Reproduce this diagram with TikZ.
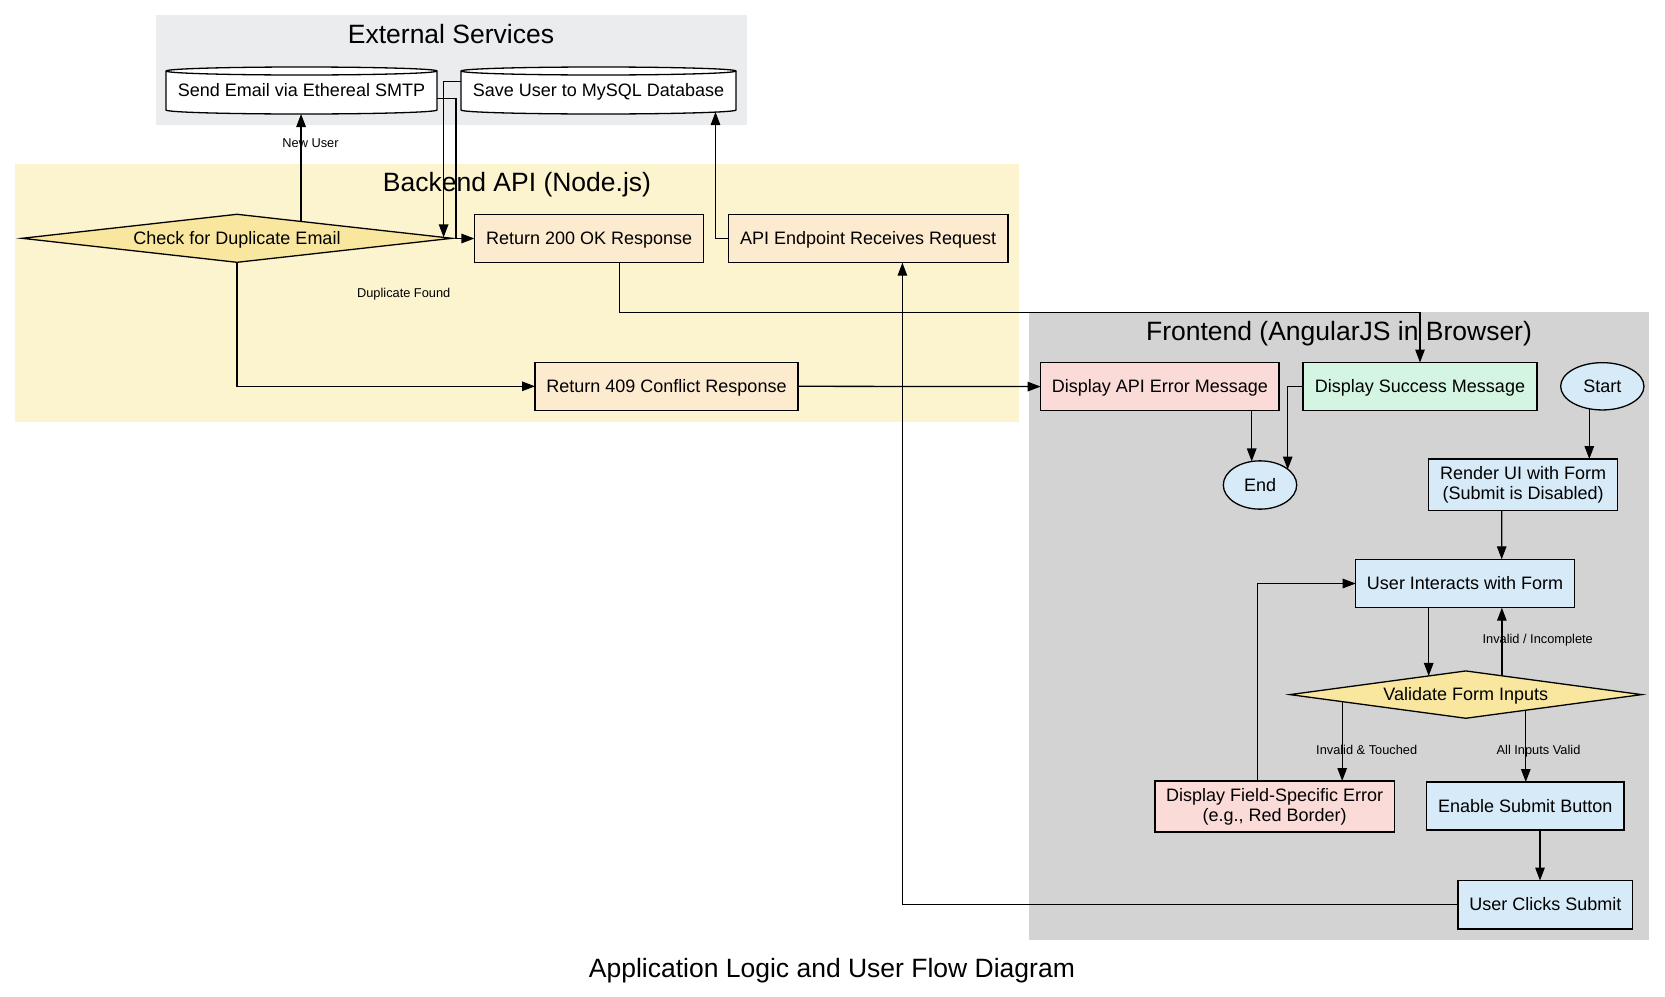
\documentclass[tikz,border=0pt]{standalone}
\usepackage{fontspec}
\setmainfont{Liberation Sans}
\usetikzlibrary{arrows.meta,shapes.geometric,calc}
\pgfdeclarelayer{bg}
\pgfsetlayers{bg,main}
\definecolor{extfill}{HTML}{EAECEE}
\definecolor{backfill}{HTML}{FCF3CF}
\definecolor{frontfill}{HTML}{D3D3D3}
\definecolor{decfill}{HTML}{F9E79F}
\definecolor{bkbox}{HTML}{FDEBD0}
\definecolor{errbox}{HTML}{FADBD8}
\definecolor{okbox}{HTML}{D5F5E3}
\definecolor{uibox}{HTML}{D6EAF8}
\newcommand\dgnodefont{\fontsize{18}{20}\selectfont}
\newcommand\dglabfont{\fontsize{12.8}{14}\selectfont}
\newcommand\dgclusfont{\fontsize{26.5}{30}\selectfont}
\newcommand\dgcyl[2]{%
  \begin{pgfonlayer}{bg}
  \filldraw[dgline, fill=white] ($(#1.north west)+(0,4)$) -- ($(#1.south west)+(0,-4)$)
     arc[start angle=180,end angle=0,x radius=#2,y radius=4]
     -- ($(#1.north east)+(0,4)$)
     arc[start angle=0,end angle=-180,x radius=#2,y radius=4] -- cycle;
  \draw[dgline] ($(#1.north west)+(0,4)$) arc[start angle=180,end angle=0,x radius=#2,y radius=4];
  \end{pgfonlayer}}
\tikzset{
  dgline/.style={line width=1.3pt, draw=black},
  dgbox/.style={rectangle, dgline, inner sep=0pt, outer sep=0pt, align=center, font=\dgnodefont},
  onel/.style={text height=15pt, text depth=3pt},
  bkstyle/.style={dgbox, fill=bkbox},
  errstyle/.style={dgbox, fill=errbox},
  okstyle/.style={dgbox, fill=okbox},
  uistyle/.style={dgbox, fill=uibox},
  decstyle/.style={diamond, dgline, fill=decfill, inner sep=0pt, outer sep=0pt, font=\dgnodefont, text height=15pt, text depth=3pt},
  termstyle/.style={ellipse, dgline, fill=uibox, inner sep=0pt, outer sep=0pt, font=\dgnodefont, text height=15pt, text depth=3pt},
  cylstyle/.style={rectangle, inner sep=0pt, outer sep=0pt, font=\dgnodefont, text height=15pt, text depth=3pt},
  conn/.style={line width=1.3pt, -{Triangle[length=13pt,width=9.5pt]}},
  elab/.style={font=\dglabfont, inner sep=0pt, text height=9pt, text depth=0pt},
  ctitle/.style={font=\dgclusfont, inner sep=0pt, anchor=base},
}
\begin{document}
\begin{tikzpicture}[x=1pt,y=-1pt]
\useasboundingbox (0,0) rectangle (1665,996);
\begin{pgfonlayer}{bg}
\fill[white] (0,0) rectangle (1665,996);
\fill[extfill] (155.8,15) rectangle (747,125);
\fill[backfill] (15,163.5) rectangle (1019,421.7);
\fill[frontfill] (1029,311.7) rectangle (1649,940);
\end{pgfonlayer}

\node[ctitle] (extTitle) at (451,43.3) {External Services};
\node[ctitle] (backTitle) at (517,191.7) {Backend API (Node.js)};
\node[ctitle] (frontTitle) at (1339,340) {Frontend (AngularJS in Browser)};
\node[ctitle] (mainTitle) at (831.9,977) {Application Logic and User Flow Diagram};

% nodes
\node[cylstyle, minimum width=271pt, minimum height=47pt] (sendEmail) at (301.5,90.5) {Send Email via Ethereal SMTP};
\node[cylstyle, minimum width=275pt, minimum height=47pt] (saveUser) at (598.5,90.5) {Save User to MySQL Database};
\dgcyl{sendEmail}{135.5}
\dgcyl{saveUser}{137.5}
\node[decstyle, shape aspect=9, minimum width=430pt, minimum height=48pt] (check) at (237,238.3) {Check for Duplicate Email};
\node[bkstyle, onel, minimum width=229.4pt, minimum height=48.4pt] (ret200) at (589.1,238.5) {Return 200 OK Response};
\node[bkstyle, onel, minimum width=279.3pt, minimum height=48.4pt] (apiEnd) at (868.2,238.5) {API Endpoint Receives Request};
\node[bkstyle, onel, minimum width=263pt, minimum height=48pt] (ret409) at (666.5,386.3) {Return 409 Conflict Response};
\node[errstyle, onel, minimum width=238.3pt, minimum height=48.2pt] (apiErr) at (1159.8,386.6) {Display API Error Message};
\node[okstyle, onel, minimum width=234pt, minimum height=48.2pt] (success) at (1420,386.6) {Display Success Message};
\node[termstyle, minimum width=83.3pt, minimum height=47.3pt] (start) at (1602.3,386.3) {Start};
\node[termstyle, minimum width=73.4pt, minimum height=48.3pt] (end) at (1260,485) {End};
\node[uistyle, minimum width=189.2pt, minimum height=51.7pt] (render) at (1523.1,484.85) {Render UI with Form\\(Submit is Disabled)};
\node[uistyle, onel, minimum width=218.6pt, minimum height=48.4pt] (interacts) at (1465,583.5) {User Interacts with Form};
\node[decstyle, shape aspect=7.5, minimum width=351.7pt, minimum height=47.3pt] (validate) at (1465.8,694.6) {Validate Form Inputs};
\node[errstyle, minimum width=239.4pt, minimum height=51pt] (fieldErr) at (1274.7,806.5) {Display Field-Specific Error\\(e.g., Red Border)};
\node[uistyle, onel, minimum width=197.5pt, minimum height=48pt] (enable) at (1525.25,806) {Enable Submit Button};
\node[uistyle, onel, minimum width=174.6pt, minimum height=48.5pt] (clicks) at (1545.3,904.8) {User Clicks Submit};

% named points on shape borders
\coordinate (chkTop) at ($(check.north)!0.298!(check.east)$);
\coordinate (chkRight) at ($(check.north)!0.961!(check.east)$);
\coordinate (e1) at ($(end.north)+(-8.3,0.6)$);
\coordinate (e2) at ($(end.center)+(27.7,-15.5)$);
\coordinate (s1) at ($(start.center)+(-13,22.5)$);
\coordinate (vIn) at ($(validate.north)!0.211!(validate.west)$);
\coordinate (vBack) at ($(validate.north)!0.205!(validate.east)$);
\coordinate (vErr) at ($(validate.south)!0.703!(validate.west)$);
\coordinate (vOk) at ($(validate.south)!0.341!(validate.east)$);

% connectors
\draw[conn] (apiEnd.west) -| ($(saveUser.south)+(117,-2)$);
\draw[conn] ($(saveUser.west)+(0,-9)$) -| (chkRight);
\draw[conn] (chkTop) -- (chkTop |- sendEmail.south);
\draw[conn] ($(sendEmail.east)+(0,8)$) -| ($(ret200.west)+(-18.4,0)$) -- (ret200.west);
\draw[conn] (check.south) |- (ret409.west);
\draw[conn] ($(ret200.south)+(30.3,0)$) -- ++(0,50) -| (success.north);
\draw[conn] (ret409.east) -- (apiErr.west);
\draw[conn] (apiErr.south -| e1) -- (e1);
\draw[conn] (success.west) -| (e2);
\draw[conn] (s1) -- (s1 |- render.north);
\draw[conn] ($(render.south)+(-21.4,0)$) -- ($(interacts.north)+(36.7,0)$);
\draw[conn] (vIn |- interacts.south) -- (vIn);
\draw[conn] (vBack) -- (vBack |- interacts.south);
\draw[conn] (vErr) -- (vErr |- fieldErr.north);
\draw[conn] (vOk) -- (vOk |- enable.north);
\draw[conn] ($(fieldErr.north)+(-17,0)$) |- (interacts.west);
\draw[conn] ($(enable.south)+(14.75,0)$) -- ($(clicks.north)+(-5.3,0)$);
\draw[conn] (clicks.west) -| ($(apiEnd.south)+(34.2,0)$);

% edge labels
\node[elab] (lNew) at (310.5,143.4) {New User};
\node[elab] (lDup) at (403.7,292.5) {Duplicate Found};
\node[elab] (lInv) at (1537.7,639) {Invalid / Incomplete};
\node[elab] (lTouch) at (1366.7,749.5) {Invalid \& Touched};
\node[elab] (lValid) at (1538.5,749.5) {All Inputs Valid};
\end{tikzpicture}
\end{document}
